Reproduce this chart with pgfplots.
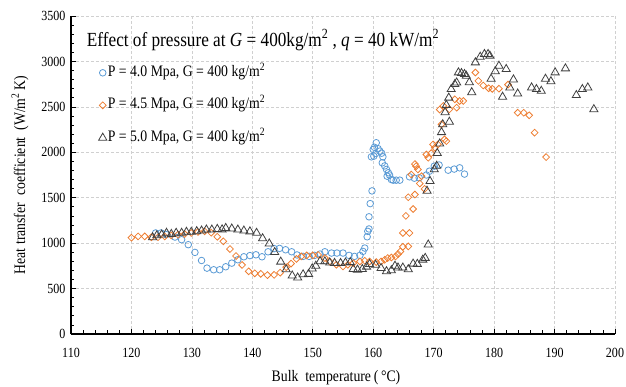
\documentclass[border=0pt]{standalone}
\usepackage{pgfplots}
\pgfplotsset{compat=1.18}
\usepackage{fontspec}
\setmainfont{Liberation Serif}[FakeStretch=0.86]
\definecolor{cblue}{HTML}{5B9BD5}
\definecolor{corange}{HTML}{ED7D31}
\definecolor{cblack}{HTML}{404040}
\definecolor{cgrid}{HTML}{D0D0D0}
\begin{document}
\begin{tikzpicture}
\path[use as bounding box] (-71pt,-53pt) rectangle (555pt,334pt);
\begin{axis}[
  at={(0pt,0pt)}, anchor=south west,
  scale only axis, width=544pt, height=318pt,
  xmin=110, xmax=200, ymin=0, ymax=3500,
  xtick={110,120,...,200}, ytick={0,500,...,3500},
  minor x tick num=4, minor y tick num=4,
  axis x line*=bottom, axis y line*=left,
  axis line style={black, line width=1.1pt, -},
  tick align=inside,
  major tick length=5pt, minor tick length=3.5pt,
  tick style={black, line width=0.7pt},
  xmajorgrids, ymajorgrids,
  grid style={cgrid, line width=0.6pt, dash pattern=on 3pt off 2pt},
  /pgf/number format/assume math mode=true,
  /pgf/number format/set thousands separator={},
  ticklabel style={font=\fontsize{14}{14}\selectfont},
  xticklabel style={yshift=-11pt},
  yticklabel style={xshift=-2pt},
  every axis x label/.style={at={(rel axis cs:0.5,0)}, anchor=center, yshift=-44pt, xshift=-7pt},
  every axis y label/.style={at={(rel axis cs:0,0.5)}, anchor=center, xshift=-51pt, rotate=90},
  xlabel={Bulk\ \ temperature\,(\,°C)},
  ylabel={Heat transfer\ \ coefficient\ \ (W/m\textsuperscript{2}\,K)},
  label style={font=\fontsize{16}{16}\selectfont},
  legend style={draw=none, fill=none, at={(rel axis cs:0.045,0.855)}, anchor=north west,
    font=\fontsize{16}{16}\selectfont, row sep=15.5pt,
    nodes={inner sep=1pt, text height=11pt, text depth=4pt}},
  legend cell align=left,
  legend image code/.code={\draw[#1] plot coordinates {(0pt,0pt)};},
]
\addplot[only marks, mark=o, mark size=3.3pt, cblue, line width=0.8pt] coordinates {
(124.0,1112)(124.9,1112)(125.8,1094)(127.2,1067)(128.3,1038)(129.4,983)(130.5,898)(131.6,809)
(132.5,725)(133.6,707)(134.6,707)(135.6,740)(136.6,780)(137.6,817)(138.6,850)(139.6,863)
(140.6,872)(141.6,850)(142.6,905)(143.6,940)(144.5,942)(145.5,927)(146.5,905)(147.4,870)
(148.4,854)(149.4,854)(150.3,865)(151.2,880)(152.0,905)(153.1,891)(154.0,891)(155.0,891)
(156.0,865)(156.9,854)(157.8,865)(158.3,909)(158.6,946)(159.0,1070)(159.1,1130)(159.3,1156)
(159.3,1290)(159.5,1435)(159.8,1575)(159.7,1950)(160.0,2031)(160.1,1957)(160.2,2055)(160.5,2105)
(160.4,1987)(160.8,2040)(161.1,2013)(161.4,1990)(161.6,1950)(161.5,1884)(161.9,1850)(162.2,1811)
(162.3,1737)(162.5,1775)(162.7,1750)(163.0,1700)(163.3,1693)(163.8,1693)(164.4,1693)(166.0,1730)
(166.8,1715)(167.6,1720)(168.8,1750)(169.3,1792)(170.1,1847)(170.9,1860)(172.4,1803)(173.4,1815)
(174.3,1829)(175.1,1760)
};
\addlegendentry{P = 4.0 Mpa, G = 400 kg/m\textsuperscript{2}}
\addplot[only marks, mark=square, mark size=2.4pt, mark options={rotate=45}, corange, line width=0.8pt] coordinates {
(120.0,1060)(121.1,1074)(122.2,1074)(123.3,1065)(124.4,1065)(125.5,1074)(126.6,1085)(127.7,1093)
(128.8,1100)(129.9,1112)(131.0,1123)(132.1,1130)(133.2,1115)(134.2,1070)(135.2,1020)(136.3,935)
(137.3,858)(138.3,760)(139.4,690)(140.4,668)(141.4,662)(142.5,648)(143.6,651)(144.6,675)
(145.6,735)(146.4,775)(147.3,826)(148.1,854)(149.0,865)(150.0,865)(150.9,870)(152.0,836)
(152.8,798)(153.9,762)(155.0,743)(155.8,762)(156.7,780)(157.8,798)(158.6,806)(159.4,798)
(160.5,791)(161.3,798)(161.9,817)(162.4,836)(163.0,842)(163.7,854)(164.1,880)(164.5,909)
(164.9,960)(165.8,964)(164.9,1112)(166.0,1112)(165.4,1300)(166.6,1376)(165.8,1505)(166.9,1535)
(167.7,1656)(168.5,1597)(166.3,1755)(167.1,1847)(167.4,1811)(166.9,1870)(168.0,1737)(168.8,1976)
(169.1,1940)(169.6,1990)(170.2,2050)(169.9,2086)(170.7,2086)(171.8,2142)(172.1,2123)(171.3,2307)
(171.0,2470)(171.6,2510)(172.6,2473)(173.8,2491)(173.5,2583)(174.3,2565)(174.9,2565)(176.9,2878)
(177.4,2786)(178.2,2735)(179.1,2705)(179.7,2698)(180.8,2700)(182.3,2745)(183.9,2436)(184.9,2435)
(185.8,2407)(186.7,2216)(188.6,1947)
};
\addlegendentry{P = 4.5 Mpa, G = 400 kg/m\textsuperscript{2}}
\addplot[only marks, mark=triangle, mark size=4.7pt, cblack, line width=0.8pt] coordinates {
(123.5,1063)(124.2,1085)(125.0,1093)(125.8,1112)(126.6,1100)(127.4,1112)(128.3,1112)(129.1,1123)
(129.9,1123)(130.8,1130)(131.6,1137)(132.4,1148)(133.3,1148)(134.2,1155)(135.0,1150)(135.6,1165)
(136.6,1159)(137.6,1148)(138.6,1137)(139.6,1128)(140.7,1112)(141.7,1052)(142.8,995)(143.7,900)
(144.7,795)(145.6,710)(146.6,642)(147.5,620)(148.4,655)(149.3,660)(149.9,720)(150.5,750)
(151.2,800)(152.0,798)(152.8,785)(153.6,780)(154.6,780)(155.4,785)(156.2,790)(156.7,714)
(157.4,707)(158.2,714)(158.9,740)(159.4,769)(160.4,760)(161.3,725)(162.2,690)(163.0,700)
(163.6,750)(164.1,730)(164.9,730)(165.8,712)(166.6,773)(167.3,770)(168.2,817)(168.6,836)
(169.1,983)(168.9,1575)(169.4,1682)(170.1,1811)(170.5,1850)(170.6,1990)(171.0,2095)(171.3,2220)
(171.5,2307)(172.6,2335)(171.9,2440)(172.1,2520)(172.5,2600)(172.9,2694)(173.5,2749)(173.8,2767)
(174.1,2878)(174.6,2870)(175.1,2859)(175.4,2841)(175.9,2770)(176.3,2660)(176.9,2988)(177.7,3050)
(178.4,3080)(179.0,3080)(179.3,3062)(179.5,2808)(180.2,2890)(180.8,2951)(181.4,2610)(182.0,2915)
(182.6,2712)(183.2,2800)(183.9,2645)(186.2,2712)(187.0,2694)(187.8,2675)(188.5,2808)(189.4,2780)
(190.1,2878)(191.8,2922)(193.6,2628)(194.6,2694)(195.5,2712)(196.5,2473)
};
\addlegendentry{P = 5.0 Mpa, G = 400 kg/m\textsuperscript{2}}
\draw[cblack, line width=0.8pt] (rel axis cs:1,0) -- (rel axis cs:1,1);
\node[anchor=west, inner sep=0pt, font=\fontsize{20}{20}\selectfont] at (rel axis cs:0.029,0.925)
  {Effect of pressure at \textit{G} = 400kg/m\textsuperscript{2} , \textit{q} = 40 kW/m\textsuperscript{2}};
\end{axis}
\end{tikzpicture}
\end{document}
